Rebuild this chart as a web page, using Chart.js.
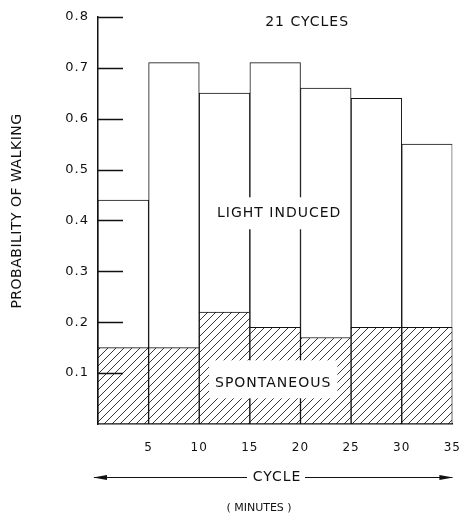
<!DOCTYPE html>
<html>
<head>
<meta charset="utf-8">
<script src="https://cdn.jsdelivr.net/npm/chart.js"></script>
<style>
  body { margin: 0; background: #fff; }
  canvas { display: block; }
</style>
</head>
<body>
<canvas id="walking" width="462" height="521"></canvas>
<script>
// five-minute bins, labelled by their end
const cycleEnds = [5, 10, 15, 20, 25, 30, 35];
const lightInduced = [0.44, 0.71, 0.65, 0.71, 0.66, 0.64, 0.55];
const spontaneous = [0.15, 0.15, 0.22, 0.19, 0.17, 0.19, 0.19];
const yTicks = [0.1, 0.2, 0.3, 0.4, 0.5, 0.6, 0.7, 0.8];

const FONT = "'DejaVu Sans', sans-serif";
const binWidth = 5;

// diagonal "/" hatching for the spontaneous bars
function hatch() {
  const s = 8;
  const c = document.createElement("canvas");
  c.width = s;
  c.height = s;
  const g = c.getContext("2d");
  g.fillStyle = "#fff";
  g.fillRect(0, 0, s, s);
  g.strokeStyle = "#222";
  g.lineWidth = 0.9;
  g.beginPath();
  g.moveTo(0, s); g.lineTo(s, 0);
  g.moveTo(-1, 1); g.lineTo(1, -1);
  g.moveTo(s - 1, s + 1); g.lineTo(s + 1, s - 1);
  g.stroke();
  return g.createPattern(c, "repeat");
}

const ctx = document.getElementById("walking").getContext("2d");

const toPoints = vals => vals.map((v, i) => ({ x: cycleEnds[i] - binWidth / 2, y: v }));

function setText(c, size, spacing) {
  c.font = size + "px " + FONT;
  c.letterSpacing = spacing + "px";
  c.fillStyle = "#111";
  c.textAlign = "center";
  c.textBaseline = "middle";
}

// label sitting in a white box that blanks the hatching / bar edges behind it
function boxedLabel(c, text, cx, cy, padX, padTop, padBottom) {
  setText(c, 14, 1);
  const w = c.measureText(text).width;
  c.fillStyle = "#fff";
  c.fillRect(cx - w / 2 - padX, cy - 8 - padTop, w + padX * 2, 16 + padTop + padBottom);
  c.fillStyle = "#111";
  c.fillText(text, cx, cy);
}

const decorations = {
  id: "decorations",
  beforeDraw(chart) {
    chart.ctx.letterSpacing = "1px";
  },
  afterDatasetsDraw(chart) {
    const c = chart.ctx;
    const { x, y } = chart.scales;
    const area = chart.chartArea;
    c.save();

    // inward ticks on the probability axis
    c.strokeStyle = "#111";
    c.lineWidth = 1.3;
    c.beginPath();
    yTicks.forEach(t => {
      const py = Math.round(y.getPixelForValue(t)) + 0.5;
      c.moveTo(area.left, py);
      c.lineTo(area.left + 25, py);
    });
    c.stroke();

    boxedLabel(c, "LIGHT INDUCED", x.getPixelForValue(17.9), y.getPixelForValue(0.414), 5, 8, 8);
    boxedLabel(c, "SPONTANEOUS", x.getPixelForValue(17.3), y.getPixelForValue(0.08), 6, 15, 7);

    setText(c, 14, 1);
    c.fillText("21 CYCLES", x.getPixelForValue(20.65), y.getPixelForValue(0.79));

    // vertical axis title
    c.save();
    c.translate(17, 211);
    c.rotate(-Math.PI / 2);
    setText(c, 14, 0.5);
    c.fillText("PROBABILITY OF WALKING", 0, 0);
    c.restore();

    // CYCLE arrow under the axis
    const ay = 477.5;
    const cx = 277;
    setText(c, 14, 1);
    c.fillText("CYCLE", cx, ay);
    setText(c, 11, 0);
    c.fillText("( MINUTES )", 259, 508);
    c.strokeStyle = "#111";
    c.lineWidth = 1;
    c.beginPath();
    c.moveTo(area.left - 4, ay); c.lineTo(cx - 30, ay);
    c.moveTo(cx + 28, ay); c.lineTo(area.right, ay);
    c.stroke();
    c.beginPath();
    c.moveTo(area.left - 5, ay); c.lineTo(area.left + 9, ay - 2.5); c.lineTo(area.left + 9, ay + 2.5);
    c.closePath();
    c.moveTo(area.right + 1, ay); c.lineTo(area.right - 13, ay - 2.5); c.lineTo(area.right - 13, ay + 2.5);
    c.closePath();
    c.fill();

    c.restore();
  }
};

new Chart(ctx, {
  type: "bar",
  data: {
    datasets: [
      {
        label: "SPONTANEOUS",
        data: toPoints(spontaneous),
        backgroundColor: hatch(),
        borderColor: "#111",
        borderWidth: 1,
        borderSkipped: false,
        order: 0
      },
      {
        label: "LIGHT INDUCED",
        data: toPoints(lightInduced),
        backgroundColor: "#fff",
        borderColor: "#111",
        borderWidth: 1,
        borderSkipped: false,
        order: 1
      }
    ]
  },
  options: {
    responsive: false,
    animation: false,
    grouped: false,
    barPercentage: 1,
    categoryPercentage: 1,
    layout: { padding: { top: 16, right: 0, left: 0, bottom: 0 } },
    plugins: {
      legend: { display: false },
      tooltip: { enabled: false }
    },
    scales: {
      x: {
        type: "linear",
        offset: false,
        min: 0,
        max: 35,
        // invisible tick marks only reserve the gap above the labels
        grid: {
          display: true,
          drawOnChartArea: false,
          drawTicks: true,
          tickLength: 15,
          color: "rgba(0,0,0,0)"
        },
        border: { display: true, color: "#111", width: 1.5 },
        ticks: {
          stepSize: 5,
          padding: 2,
          color: "#111",
          font: { family: FONT, size: 12 },
          callback: v => (v === 0 ? "" : v)
        },
        afterFit: s => { s.height = 97; }
      },
      y: {
        min: 0,
        max: 0.8,
        grid: { display: false, drawTicks: false },
        border: { display: true, color: "#111", width: 1.5 },
        ticks: {
          stepSize: 0.1,
          padding: 9,
          color: "#111",
          font: { family: FONT, size: 13 },
          callback: v => (v === 0 ? "" : v.toFixed(1))
        },
        afterFit: s => { s.width = 98; }
      }
    }
  },
  plugins: [decorations]
});
</script>
</body>
</html>
